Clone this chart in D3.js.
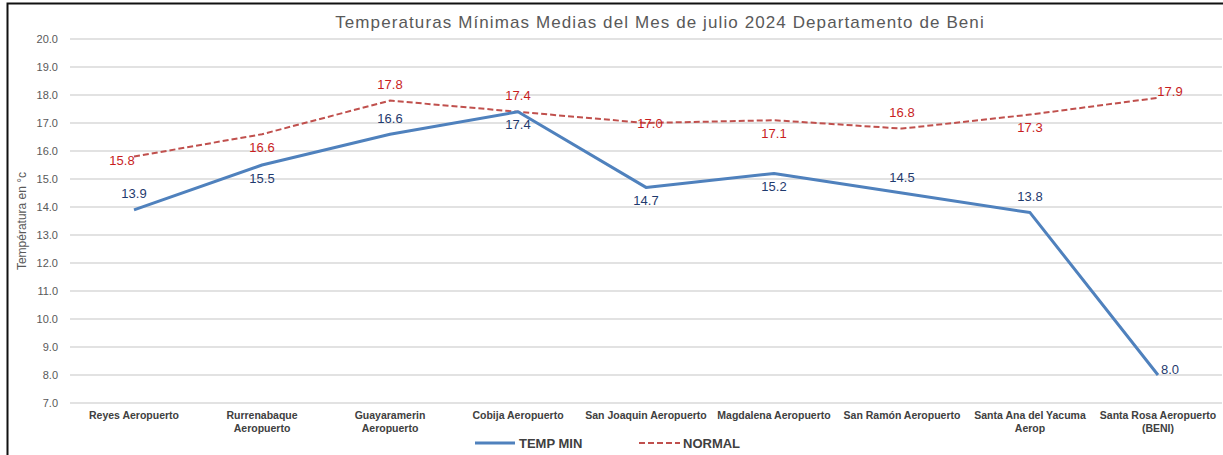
<!DOCTYPE html>
<html>
<head>
<meta charset="utf-8">
<script src="https://cdn.jsdelivr.net/npm/d3@7"></script>
<style>
  body { margin: 0; background: #fff; }
  text { font-family: "Liberation Sans", Arial, sans-serif; }
</style>
</head>
<body>
<div id="wrapper"></div>
<script>
// estaciones y valores (°C)
const stations = [
    ["Reyes Aeropuerto"],
    ["Rurrenabaque", "Aeropuerto"],
    ["Guayaramerin", "Aeropuerto"],
    ["Cobija Aeropuerto"],
    ["San Joaquin Aeropuerto"],
    ["Magdalena Aeropuerto"],
    ["San Ramón Aeropuerto"],
    ["Santa Ana del Yacuma", "Aerop"],
    ["Santa Rosa Aeropuerto", "(BENI)"]
]
const tempMin = [13.9, 15.5, 16.6, 17.4, 14.7, 15.2, 14.5, 13.8, 8.0]
const normal = [15.8, 16.6, 17.8, 17.4, 17.0, 17.1, 16.8, 17.3, 17.9]
const yTicks = [7, 8, 9, 10, 11, 12, 13, 14, 15, 16, 17, 18, 19, 20]

// where each data label sits relative to its point
const tempMinLabelPos = ["above", "below", "above", "below", "below", "below", "above", "above", "right"]
const normalLabelPos = ["left", "below", "above", "above", "center", "below", "above", "below", "right"]

const dimensions = {
    width: 1223,
    height: 455,
    margin: { left: 70, right: 1, top: 39, bottom: 52 }
}
dimensions.boundedWidth = dimensions.width - dimensions.margin.left - dimensions.margin.right
dimensions.boundedHeight = dimensions.height - dimensions.margin.top - dimensions.margin.bottom

const svg = d3.select("#wrapper")
    .append("svg")
    .attr("width", dimensions.width)
    .attr("height", dimensions.height)

// marco
svg.append("path")
    .attr("d", `M7.5,${dimensions.height} V3.5 H${dimensions.width}`)
    .attr("fill", "none")
    .attr("stroke", "#111")
    .attr("stroke-width", 2)

const bounds = svg.append("g")
    .attr("transform", `translate(${dimensions.margin.left}, ${dimensions.margin.top})`)

const xScale = d3.scalePoint()
    .domain(d3.range(stations.length))
    .range([0, dimensions.boundedWidth])
    .padding(0.5)

const yScale = d3.scaleLinear()
    .domain([7, 20])
    .range([364, 0])

// grid
bounds.append("g")
    .selectAll("line")
    .data(yTicks)
    .join("line")
    .attr("x1", 0)
    .attr("x2", dimensions.boundedWidth)
    .attr("y1", d => yScale(d))
    .attr("y2", d => yScale(d))
    .attr("stroke", "#d9d9d9")
    .attr("stroke-width", 1.3)

const yAxis = d3.axisLeft(yScale)
    .tickValues(yTicks)
    .tickFormat(d3.format(".1f"))
    .tickSize(0)
    .tickPadding(12)

const yAxisEl = bounds.append("g").call(yAxis)
yAxisEl.select(".domain").remove()
yAxisEl.selectAll("text")
    .attr("fill", "#595959")
    .style("font-size", "11px")

// eje x: nombres
const xLabels = bounds.append("g")
    .selectAll("text")
    .data(stations)
    .join("text")
    .attr("x", (d, i) => xScale(i))
    .attr("y", 380)
    .attr("text-anchor", "middle")
    .attr("fill", "#404040")
    .style("font-size", "10.5px")
    .style("font-weight", "bold")
xLabels.selectAll("tspan")
    .data(d => d)
    .join("tspan")
    .attr("x", function() { return d3.select(this.parentNode).attr("x") })
    .attr("dy", (d, i) => i === 0 ? 0 : 13)
    .text(d => d)

const lineGen = d3.line()
    .x((d, i) => xScale(i))
    .y(d => yScale(d))

bounds.append("path")
    .datum(normal)
    .attr("d", lineGen)
    .attr("fill", "none")
    .attr("stroke", "#c0504d")
    .attr("stroke-width", 2)
    .attr("stroke-dasharray", "6,3")

bounds.append("path")
    .datum(tempMin)
    .attr("d", lineGen)
    .attr("fill", "none")
    .attr("stroke", "#4f81bd")
    .attr("stroke-width", 3)
    .attr("stroke-linejoin", "round")

const labelOffset = {
    above: [0, -16],
    below: [0, 13],
    left: [-12, 4],
    right: [12, -6],
    center: [4, 0]
}

const drawLabels = (values, positions, color) => {
    bounds.append("g")
        .selectAll("text")
        .data(values)
        .join("text")
        .attr("x", (d, i) => xScale(i) + labelOffset[positions[i]][0])
        .attr("y", (d, i) => yScale(d) + labelOffset[positions[i]][1])
        .attr("dy", "0.35em")
        .attr("text-anchor", "middle")
        .attr("fill", color)
        .style("font-size", "13px")
        .text(d => d3.format(".1f")(d))
}
drawLabels(normal, normalLabelPos, "#c81e1e")
drawLabels(tempMin, tempMinLabelPos, "#1f3a6e")

// titulo
svg.append("text")
    .attr("x", 660)
    .attr("y", 28)
    .attr("text-anchor", "middle")
    .attr("fill", "#595959")
    .style("font-size", "17px")
    .style("letter-spacing", "1.1px")
    .text("Temperaturas  Mínimas Medias del Mes de julio 2024 Departamento de Beni")

svg.append("text")
    .attr("transform", `translate(26, ${yScale(13.5) + dimensions.margin.top}) rotate(-90)`)
    .attr("text-anchor", "middle")
    .attr("fill", "#595959")
    .style("font-size", "12px")
    .text("Températura en °c")

// leyenda
const legend = svg.append("g").attr("transform", "translate(0, 443)")
legend.append("line")
    .attr("x1", 475).attr("x2", 515)
    .attr("stroke", "#4f81bd").attr("stroke-width", 3)
legend.append("text")
    .attr("x", 519).attr("dy", "0.35em")
    .attr("fill", "#404040")
    .style("font-size", "13px").style("font-weight", "bold")
    .text("TEMP MIN")
legend.append("line")
    .attr("x1", 639).attr("x2", 680)
    .attr("stroke", "#c0504d").attr("stroke-width", 2)
    .attr("stroke-dasharray", "6,3")
legend.append("text")
    .attr("x", 683).attr("dy", "0.35em")
    .attr("fill", "#404040")
    .style("font-size", "13px").style("font-weight", "bold")
    .text("NORMAL")
</script>
</body>
</html>
